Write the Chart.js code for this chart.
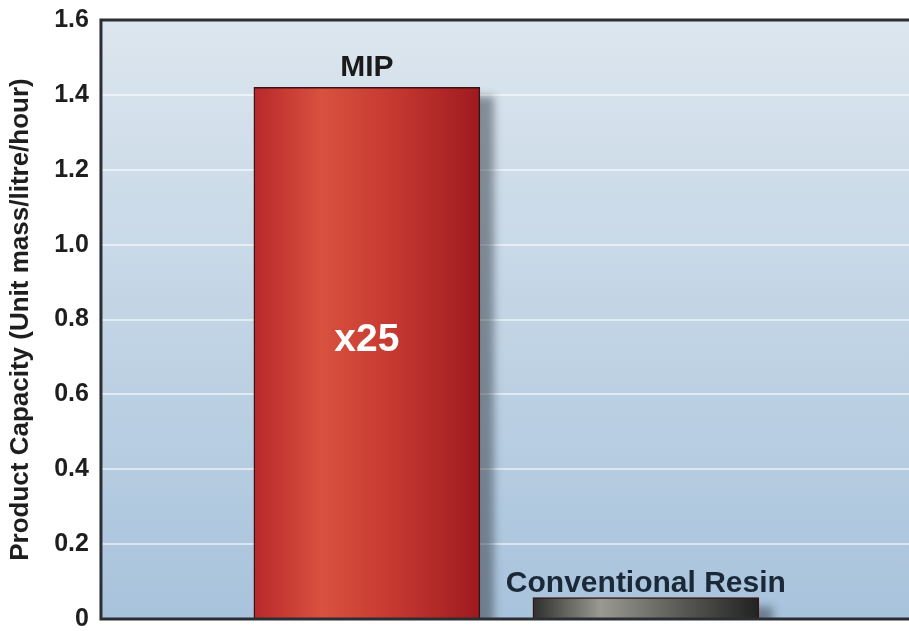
<!DOCTYPE html>
<html>
<head>
<meta charset="utf-8">
<script src="https://cdn.jsdelivr.net/npm/chart.js@4.4.1/dist/chart.umd.min.js"></script>
<style>
  html, body { margin: 0; padding: 0; background: #fff; }
  #wrap { width: 909px; height: 631px; }
</style>
</head>
<body>
<div id="wrap"><canvas id="capacity-chart" width="909" height="631"></canvas></div>
<script>
// data
const categories = ['MIP', 'Conventional Resin'];
const positions = [1, 2];
const capacity = [1.42, 0.057];
const yTicks = [0, 0.2, 0.4, 0.6, 0.8, 1.0, 1.2, 1.4, 1.6];
const ratioLabel = 'x25';

const FONT = '"Liberation Sans", Arial, Helvetica, sans-serif';

// horizontal shading for each bar
const barShades = [
    ['#b8282b', '#d9513f', '#c3362f', '#9e1a20'],
    ['#2e2e2e', '#9a9a92', '#5a5a56', '#222222']
];

function barFill(context) {
    const chart = context.chart;
    const i = context.dataIndex;
    if (!chart.chartArea || i === undefined) return barShades[0][0];
    const cx = chart.scales.x.getPixelForValue(positions[i]);
    const half = 113;
    const g = chart.ctx.createLinearGradient(cx - half, 0, cx + half, 0);
    const s = barShades[i];
    g.addColorStop(0, s[0]);
    g.addColorStop(0.3, s[1]);
    g.addColorStop(0.65, s[2]);
    g.addColorStop(1, s[3]);
    return g;
}

const panelPlugin = {
    id: 'panel',
    beforeDraw(chart) {
        const { ctx, chartArea: a } = chart;
        const g = ctx.createLinearGradient(0, a.top, 0, a.bottom);
        g.addColorStop(0, '#dce6ee');
        g.addColorStop(1, '#a8c3dc');
        ctx.save();
        ctx.fillStyle = g;
        ctx.fillRect(a.left, a.top, a.right - a.left, a.bottom - a.top);
        ctx.restore();
    },
    beforeDatasetsDraw(chart) {
        // soft drop shadow behind each bar
        const { ctx, chartArea: a } = chart;
        ctx.save();
        ctx.beginPath();
        ctx.rect(a.left, a.top, a.right - a.left, a.bottom - a.top - 1);
        ctx.clip();
        ctx.filter = 'blur(4px)';
        ctx.fillStyle = 'rgba(50,55,65,0.5)';
        chart.getDatasetMeta(0).data.forEach(b => {
            ctx.fillRect(b.x - b.width / 2 + 14, b.y + 9, b.width, b.base - b.y);
        });
        ctx.restore();
    },
    afterDatasetsDraw(chart) {
        const { ctx, chartArea: a } = chart;
        // frame: top, left, bottom
        ctx.save();
        ctx.strokeStyle = '#2b2f33';
        ctx.lineWidth = 3;
        ctx.beginPath();
        ctx.moveTo(chart.width, a.top);
        ctx.lineTo(a.left, a.top);
        ctx.lineTo(a.left, a.bottom);
        ctx.lineTo(chart.width, a.bottom);
        ctx.stroke();
        // bar labels
        const bars = chart.getDatasetMeta(0).data;
        ctx.textAlign = 'center';
        ctx.textBaseline = 'alphabetic';
        ctx.font = 'bold 30px ' + FONT;
        ctx.fillStyle = '#1a1a1a';
        ctx.fillText(categories[0], bars[0].x, bars[0].y - 11);
        ctx.font = 'bold 30px ' + FONT;
        ctx.fillStyle = '#1b2838';
        ctx.fillText(categories[1], bars[1].x, bars[1].y - 6);
        ctx.fillStyle = '#ffffff';
        ctx.textBaseline = 'middle';
        ctx.font = 'bold 39px ' + FONT;
        ctx.fillText(ratioLabel, bars[0].x, chart.scales.y.getPixelForValue(0.745));
        ctx.restore();
    }
};

new Chart(document.getElementById('capacity-chart'), {
    type: 'bar',
    data: {
        datasets: [{
            data: positions.map((x, i) => ({ x: x, y: capacity[i] })),
            backgroundColor: barFill,
            borderColor: '#3a1414',
            borderWidth: 1.5,
            borderSkipped: 'bottom',
            barThickness: 226
        }]
    },
    options: {
        responsive: false,
        animation: false,
        layout: { padding: { top: 20, right: 0, bottom: 12, left: 5 } },
        plugins: {
            legend: { display: false },
            tooltip: { enabled: false }
        },
        scales: {
            x: {
                type: 'linear',
                display: false,
                offset: false,
                min: 0.047,
                max: 2.943
            },
            y: {
                min: 0,
                max: 1.6,
                afterBuildTicks(scale) {
                    scale.ticks = yTicks.map(v => ({ value: v }));
                },
                afterFit(scale) {
                    scale.paddingTop = 0;
                    scale.paddingBottom = 0;
                },
                border: { display: false },
                grid: {
                    color: 'rgba(255,255,255,0.55)',
                    lineWidth: 2,
                    drawTicks: false
                },
                ticks: {
                    padding: 12,
                    color: '#1e1e1e',
                    font: { family: FONT, size: 25, weight: 'bold' },
                    callback: v => v === 0 ? '0' : v.toFixed(1)
                },
                title: {
                    display: true,
                    text: 'Product Capacity (Unit mass/litre/hour)',
                    color: '#1e1e1e',
                    font: { family: FONT, size: 26, weight: 'bold' },
                    padding: { top: 0, bottom: 6 }
                }
            }
        }
    },
    plugins: [panelPlugin]
});
</script>
</body>
</html>
